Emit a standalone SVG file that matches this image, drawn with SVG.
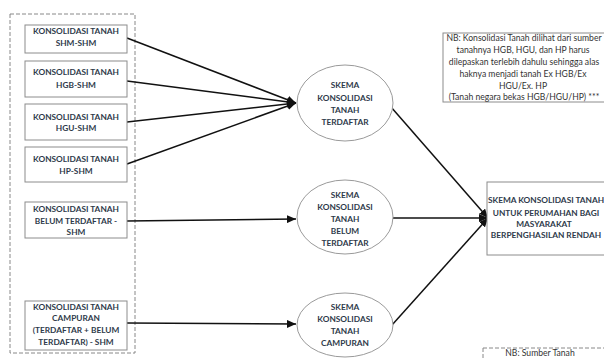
<svg xmlns="http://www.w3.org/2000/svg" width="604" height="358" viewBox="0 0 604 358">
<style>
.bx{fill:#fff;stroke:#8c8c8c;stroke-width:1}
.el{fill:#fff;stroke:#9a9a9a;stroke-width:1}
.t{font-family:Lato,"Open Sans","Liberation Sans",sans-serif;font-weight:bold;font-size:8.3px;fill:#2e3a4a;text-anchor:middle}
.n{font-family:Lato,"Open Sans","Liberation Sans",sans-serif;font-size:8.6px;fill:#333;text-anchor:middle}
.dash{fill:none;stroke:#888;stroke-width:1;stroke-dasharray:4 2}
.c{stroke:#111;stroke-width:1.5;fill:none;marker-end:url(#ah)}
</style>
<defs>
<marker id="ah" markerUnits="userSpaceOnUse" markerWidth="10" markerHeight="8" refX="9" refY="4" orient="auto">
<path d="M0,0 L9,4 L0,8 Z" fill="#111"/>
</marker>
</defs>
<rect width="604" height="358" fill="#fff"/>
<rect class="dash" x="10" y="14" width="125" height="339"/>
<g id="connectors">
<line class="c" x1="127" y1="38" x2="296" y2="103"/>
<line class="c" x1="127" y1="81" x2="296" y2="103"/>
<line class="c" x1="127" y1="122" x2="296" y2="103"/>
<line class="c" x1="127" y1="164" x2="296" y2="103"/>
<line class="c" x1="127" y1="221" x2="296" y2="219"/>
<line class="c" x1="127" y1="323" x2="296" y2="324"/>
<line class="c" x1="391" y1="107" x2="488" y2="218"/>
<line class="c" x1="393" y1="218" x2="488" y2="218"/>
<line class="c" x1="392" y1="325" x2="488" y2="218"/>
</g>
<g id="n1"><rect class="bx" x="25" y="25" width="102" height="28"/>
<text class="t" x="76" y="34">KONSOLIDASI TANAH</text><text class="t" x="76" y="46">SHM-SHM</text></g>
<g id="n2"><rect class="bx" x="25" y="61" width="102" height="36"/>
<text class="t" x="76" y="75">KONSOLIDASI TANAH</text><text class="t" x="76" y="88">HGB-SHM</text></g>
<g id="n3"><rect class="bx" x="25" y="104" width="102" height="36"/>
<text class="t" x="76" y="120">KONSOLIDASI TANAH</text><text class="t" x="76" y="131">HGU-SHM</text></g>
<g id="n4"><rect class="bx" x="25" y="147" width="102" height="35"/>
<text class="t" x="76" y="162">KONSOLIDASI TANAH</text><text class="t" x="76" y="174">HP-SHM</text></g>
<g id="n5"><rect class="bx" x="25" y="202" width="102" height="36"/>
<text class="t" x="76" y="212">KONSOLIDASI TANAH</text><text class="t" x="76" y="224">BELUM TERDAFTAR -</text><text class="t" x="76" y="235">SHM</text></g>
<g id="n6"><rect class="bx" x="25" y="301" width="102" height="49"/>
<text class="t" x="76" y="310">KONSOLIDASI TANAH</text><text class="t" x="76" y="321">CAMPURAN</text><text class="t" x="76" y="333">(TERDAFTAR + BELUM</text><text class="t" x="76" y="345">TERDAFTAR) - SHM</text></g>
<g id="e1"><ellipse class="el" cx="345" cy="103" rx="48" ry="38"/>
<text class="t" x="345" y="88">SKEMA</text><text class="t" x="345" y="101">KONSOLIDASI</text><text class="t" x="345" y="113">TANAH</text><text class="t" x="345" y="125">TERDAFTAR</text></g>
<g id="e2"><ellipse class="el" cx="345" cy="217" rx="48" ry="37"/>
<text class="t" x="345" y="198">SKEMA</text><text class="t" x="345" y="210">KONSOLIDASI</text><text class="t" x="345" y="222">TANAH</text><text class="t" x="345" y="234">BELUM</text><text class="t" x="345" y="246">TERDAFTAR</text></g>
<g id="e3"><ellipse class="el" cx="345" cy="325" rx="48" ry="32"/>
<text class="t" x="345" y="310">SKEMA</text><text class="t" x="345" y="322">KONSOLIDASI</text><text class="t" x="345" y="334">TANAH</text><text class="t" x="345" y="346">CAMPURAN</text></g>
<g id="target"><rect class="bx" x="487" y="182" width="130" height="73"/>
<text class="t" x="546" y="203">SKEMA KONSOLIDASI TANAH</text><text class="t" x="546" y="216">UNTUK PERUMAHAN BAGI</text><text class="t" x="544" y="227">MASYARAKAT</text><text class="t" x="546" y="238">BERPENGHASILAN RENDAH</text></g>
<g id="nb"><rect class="bx" x="443" y="33" width="170" height="69" stroke="#666"/>
<text class="n" x="524" y="41">NB: Konsolidasi Tanah dilihat dari sumber</text>
<text class="n" x="523" y="53">tanahnya HGB, HGU, dan HP harus</text>
<text class="n" x="524" y="65">dilepaskan terlebih dahulu sehingga alas</text>
<text class="n" x="523" y="77">haknya menjadi tanah Ex HGB/Ex</text>
<text class="n" x="523" y="89">HGU/Ex. HP</text>
<text class="n" x="524" y="100">(Tanah negara bekas HGB/HGU/HP) ***</text></g>
<g id="nb2"><rect class="dash" x="483" y="348" width="140" height="30"/>
<text class="n" x="540" y="355.5" font-size="7">NB: Sumber Tanah</text></g>
</svg>
